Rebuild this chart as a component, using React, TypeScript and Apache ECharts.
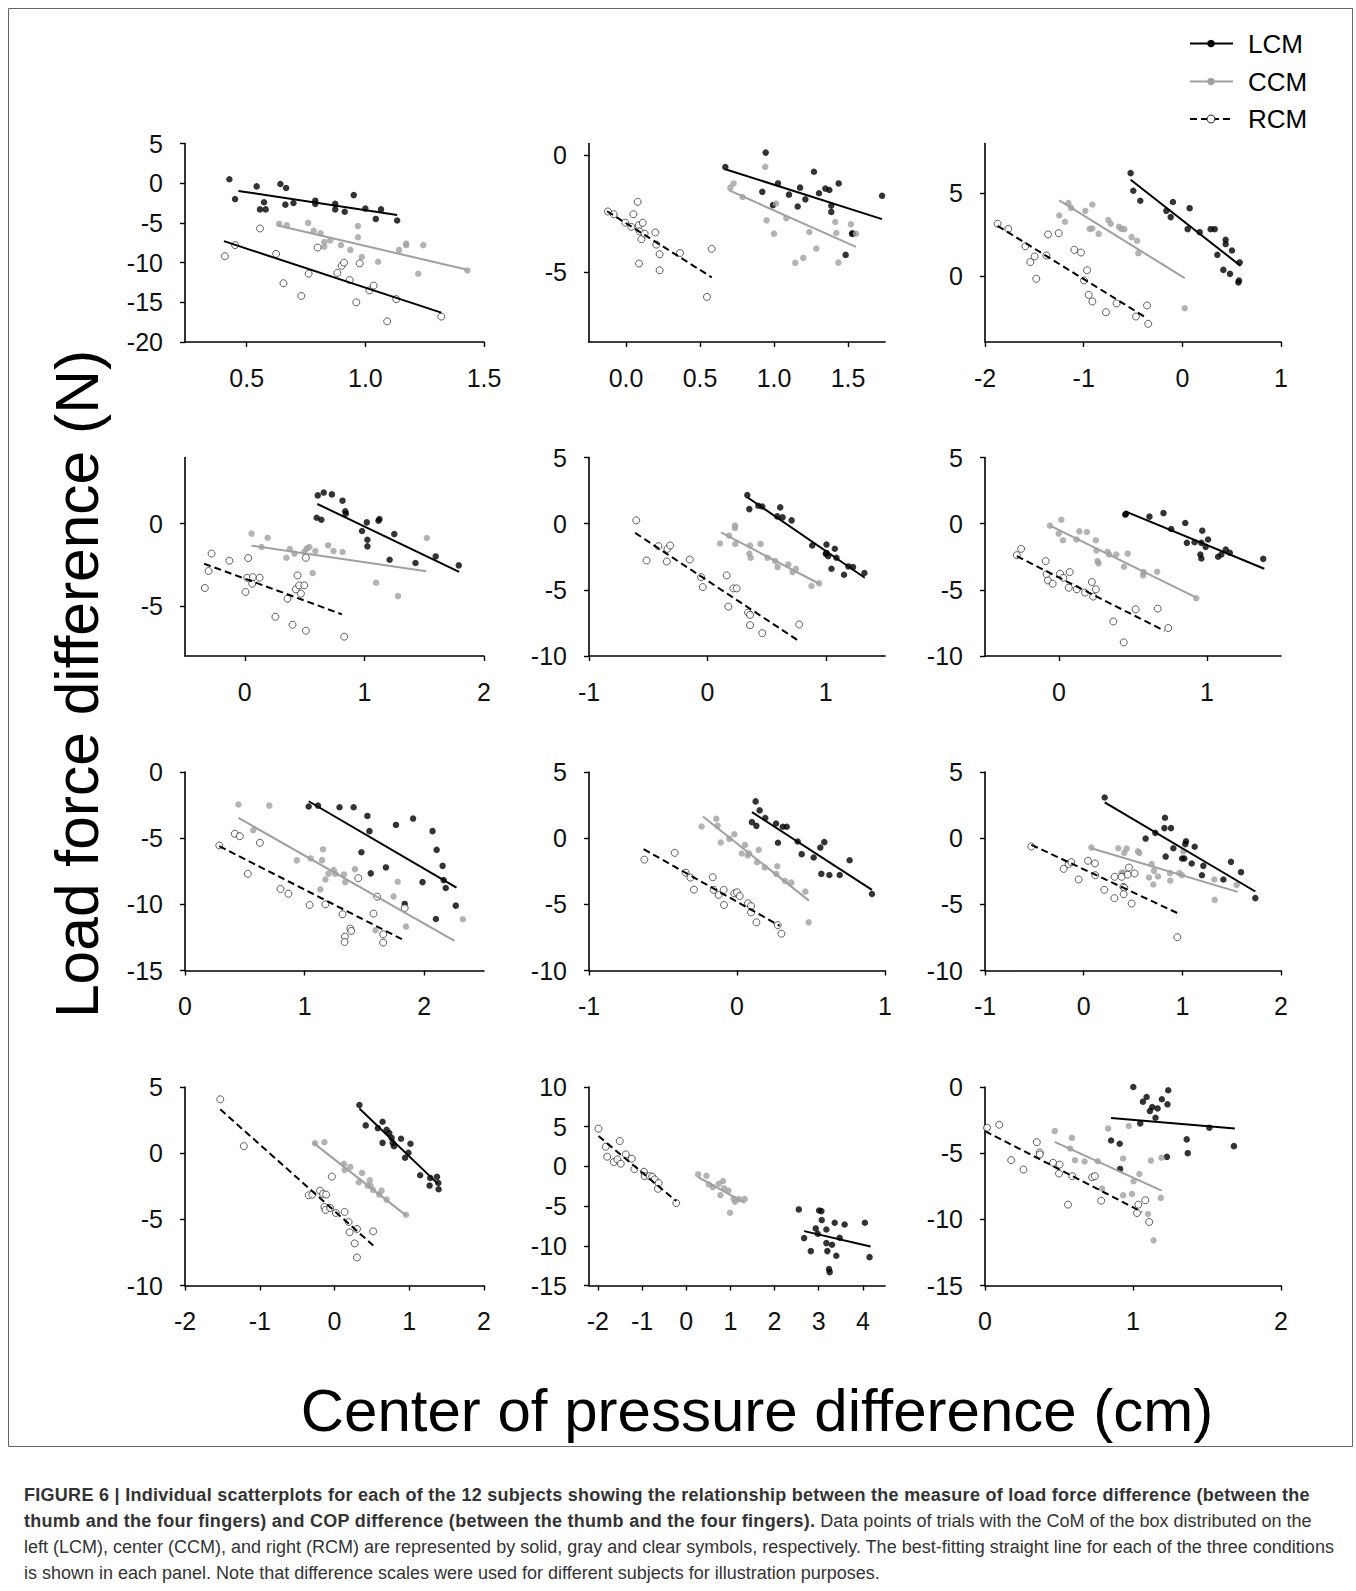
import React, { useEffect, useRef } from "react";
import * as echarts from "echarts";

const FONT = "'Liberation Sans', Arial, Helvetica, sans-serif";

// ---------------- data ----------------
const P1_LCM = [[0.427,0.5],[0.451,-2.0],[0.542,-0.4],[0.556,-3.3],[0.573,-2.4],[0.580,-3.3],[0.642,-0.1],[0.666,-0.6],[0.663,-2.7],[0.697,-2.5],[0.789,-2.2],[0.789,-2.6],[0.873,-2.6],[0.873,-3.3],[0.913,-3.6],[0.951,-1.5],[1.0,-3.2],[1.044,-4.5],[1.066,-3.3],[1.134,-4.7]];
const P1_LCM_FIT = [[0.465,-0.97],[1.134,-4.0]];
const P1_CCM = [[0.637,-5.1],[0.669,-5.3],[0.759,-5.0],[0.782,-6.0],[0.811,-6.3],[0.827,-7.4],[0.827,-8.0],[0.852,-7.2],[0.897,-7.8],[0.937,-8.4],[0.969,-5.4],[0.969,-6.8],[0.985,-9.3],[1.054,-9.9],[1.142,-8.4],[1.172,-7.8],[1.172,-7.6],[1.223,-11.4],[1.244,-7.8],[1.430,-11.0]];
const P1_CCM_FIT = [[0.627,-5.3],[1.430,-10.9]];
const P1_RCM = [[0.408,-9.2],[0.451,-7.8],[0.556,-5.7],[0.624,-8.9],[0.655,-12.6],[0.730,-14.2],[0.761,-11.4],[0.799,-8.1],[0.882,-11.3],[0.900,-10.4],[0.910,-10.0],[0.934,-12.2],[0.962,-15.0],[0.976,-10.1],[1.017,-13.5],[1.035,-12.9],[1.092,-17.4],[1.130,-14.6],[1.320,-16.8]];
const P1_RCM_FIT = [[0.404,-7.3],[1.320,-16.3]];

const P2_LCM = [[0.671,-0.51],[0.944,0.11],[0.921,-1.57],[0.993,-2.14],[1.027,-1.21],[1.101,-1.69],[1.160,-2.2],[1.176,-1.39],[1.212,-1.89],[1.270,-0.71],[1.304,-1.63],[1.347,-1.43],[1.374,-1.49],[1.387,-2.16],[1.387,-2.43],[1.437,-1.21],[1.484,-4.27],[1.527,-3.36],[1.533,-3.36],[1.730,-1.74]];
const P2_LCM_FIT = [[0.671,-0.6],[1.73,-2.74]];
const P2_CCM = [[0.705,-1.39],[0.727,-1.21],[0.788,-1.79],[0.941,-0.5],[0.950,-2.79],[1.0,-3.36],[1.014,-2.07],[1.083,-2.7],[1.144,-4.61],[1.198,-4.4],[1.239,-3.29],[1.286,-4.0],[1.414,-2.86],[1.421,-3.33],[1.435,-4.6],[1.520,-2.96],[1.554,-3.36]];
const P2_CCM_FIT = [[0.694,-1.5],[1.554,-3.93]];
const P2_RCM = [[-0.122,-2.41],[-0.083,-2.53],[-0.005,-2.89],[0.036,-3.07],[0.05,-2.53],[0.079,-2.0],[0.086,-3.0],[0.092,-3.26],[0.113,-2.9],[0.104,-3.6],[0.126,-3.36],[0.088,-4.64],[0.198,-3.31],[0.205,-3.83],[0.227,-4.24],[0.227,-4.93],[0.365,-4.19],[0.547,-6.07],[0.579,-4.01]];
const P2_RCM_FIT = [[-0.128,-2.4],[0.579,-5.23]];

const P3_LCM = [[-0.524,6.21],[-0.497,5.14],[-0.426,4.54],[-0.162,3.93],[-0.118,3.55],[-0.095,4.46],[0.054,2.82],[0.074,4.09],[0.176,2.64],[0.287,2.82],[0.328,2.82],[0.355,1.27],[0.416,0.36],[0.439,2.18],[0.439,1.92],[0.483,0.12],[0.503,1.53],[0.568,-0.4],[0.574,-0.28],[0.581,0.81]];
const P3_LCM_FIT = [[-0.524,5.81],[0.591,0.6]];
const P3_CCM = [[-1.247,3.65],[-1.189,3.27],[-1.155,4.40],[-1.128,4.11],[-0.983,3.93],[-0.912,4.31],[-0.939,2.84],[-0.912,2.86],[-0.848,2.54],[-0.75,3.37],[-0.726,3.15],[-0.642,2.96],[-0.618,2.84],[-0.588,2.82],[-0.514,2.34],[-0.459,2.12],[-0.446,1.37],[0.024,-1.96]];
const P3_CCM_FIT = [[-1.247,4.56],[0.024,-0.14]];
const P3_RCM = [[-1.872,3.15],[-1.764,2.84],[-1.591,1.79],[-1.541,0.83],[-1.497,1.17],[-1.480,-0.18],[-1.378,1.23],[-1.361,2.5],[-1.253,2.58],[-1.095,1.57],[-1.027,1.41],[-0.966,0.34],[-0.997,-0.28],[-0.949,-1.15],[-0.912,-1.55],[-0.774,-2.2],[-0.666,-1.67],[-0.470,-2.46],[-0.358,-1.79],[-0.345,-2.9]];
const P3_RCM_FIT = [[-1.872,3.02],[-0.358,-2.56]];

const P4_LCM = [[0.610,1.71],[0.660,1.88],[0.728,1.77],[0.817,1.39],[0.840,0.75],[0.845,0.6],[0.601,0.36],[0.640,0.24],[1.020,0.08],[0.980,-0.44],[1.025,-0.97],[1.025,-1.37],[1.118,0.18],[1.126,0.28],[1.250,-0.63],[1.211,-2.18],[1.427,-2.38],[1.596,-1.98],[1.789,-2.52]];
const P4_LCM_FIT = [[0.607,1.19],[1.792,-2.92]];
const P4_CCM = [[0.056,-0.6],[0.191,-0.85],[0.140,-1.41],[0.348,-2.06],[0.376,-1.53],[0.416,-1.81],[0.497,-1.71],[0.517,-1.51],[0.539,-1.41],[0.567,-2.98],[0.590,-1.65],[0.697,-1.31],[0.742,-1.65],[0.817,-1.71],[1.098,-3.57],[1.281,-4.38],[1.522,-0.87]];
const P4_CCM_FIT = [[0.056,-1.33],[1.517,-2.88]];
const P4_RCM = [[-0.334,-3.89],[-0.303,-2.86],[-0.278,-1.81],[-0.129,-2.24],[0.006,-4.13],[0.028,-2.08],[0.020,-3.27],[0.067,-3.23],[0.062,-3.63],[0.124,-3.27],[0.256,-5.63],[0.357,-4.54],[0.399,-6.11],[0.427,-3.97],[0.441,-3.13],[0.455,-3.73],[0.469,-4.23],[0.497,-3.73],[0.511,-2.06],[0.511,-6.47],[0.831,-6.83]];
const P4_RCM_FIT = [[-0.340,-2.42],[0.812,-5.48]];

const P5_LCM = [[0.337,2.16],[0.354,1.10],[0.430,1.35],[0.463,1.30],[0.590,0.55],[0.615,1.23],[0.635,0.48],[0.711,0.25],[0.885,-1.65],[1.006,-1.58],[1.0,-2.28],[1.020,-2.46],[1.006,-2.21],[1.076,-1.9],[1.090,-2.58],[1.048,-3.41],[1.154,-3.86],[1.191,-3.23],[1.230,-3.28],[1.326,-3.73]];
const P5_LCM_FIT = [[0.337,2.0],[1.329,-4.09]];
const P5_CCM = [[0.107,-1.5],[0.183,-0.9],[0.233,-0.15],[0.233,-0.33],[0.236,-1.53],[0.360,-1.65],[0.354,-2.26],[0.365,-2.58],[0.449,-1.53],[0.508,-2.58],[0.573,-2.83],[0.593,-3.28],[0.683,-3.08],[0.719,-3.66],[0.747,-3.41],[0.879,-4.71],[0.944,-4.51]];
const P5_CCM_FIT = [[0.115,-0.65],[0.944,-4.54]];
const P5_RCM = [[-0.601,0.25],[-0.514,-2.78],[-0.413,-1.7],[-0.337,-1.9],[-0.315,-1.65],[-0.343,-2.86],[-0.149,-2.71],[-0.053,-4.04],[-0.039,-4.79],[0.163,-3.91],[0.177,-6.27],[0.219,-4.89],[0.247,-4.89],[0.343,-6.72],[0.360,-6.89],[0.360,-7.67],[0.463,-8.27],[0.775,-7.62]];
const P5_RCM_FIT = [[-0.610,-0.70],[0.770,-8.85]];

const P6_LCM = [[0.448,0.68],[0.452,0.75],[0.611,0.53],[0.706,0.80],[0.758,-0.4],[0.853,0.05],[0.864,-1.45],[0.916,-1.4],[0.962,-1.45],[0.968,-0.53],[0.955,-2.33],[0.962,-2.63],[0.991,-1.75],[1.007,-1.2],[1.075,-2.5],[1.097,-2.33],[1.127,-1.95],[1.154,-2.2],[1.380,-2.66]];
const P6_LCM_FIT = [[0.448,0.93],[1.387,-3.41]];
const P6_CCM = [[-0.061,-0.15],[-0.002,-0.75],[0.016,0.30],[0.027,-1.25],[0.118,-1.2],[0.138,-0.58],[0.188,-0.63],[0.249,-1.25],[0.253,-2.03],[0.260,-2.83],[0.267,-3.0],[0.328,-2.13],[0.339,-2.33],[0.387,-2.33],[0.439,-3.26],[0.464,-2.26],[0.568,-3.91],[0.572,-3.66],[0.663,-3.63],[0.928,-5.64]];
const P6_CCM_FIT = [[-0.061,-0.15],[0.928,-5.59]];
const P6_RCM = [[-0.285,-2.38],[-0.256,-1.9],[-0.090,-2.83],[-0.084,-3.83],[-0.075,-4.29],[-0.043,-4.54],[0.007,-3.78],[0.029,-4.09],[0.072,-3.66],[0.066,-4.84],[0.120,-4.96],[0.176,-5.21],[0.222,-4.41],[0.231,-5.51],[0.249,-4.96],[0.367,-7.39],[0.437,-8.97],[0.518,-6.47],[0.667,-6.42],[0.738,-7.89]];
const P6_RCM_FIT = [[-0.285,-2.46],[0.713,-8.1]];

const P7_LCM = [[1.034,-2.61],[1.112,-2.54],[1.292,-2.66],[1.410,-2.66],[1.525,-3.32],[1.542,-4.47],[1.475,-6.06],[1.553,-7.66],[1.680,-7.21],[1.764,-4.0],[1.907,-3.52],[1.837,-9.97],[1.986,-8.32],[2.070,-4.47],[2.104,-5.88],[2.154,-7.09],[2.163,-8.17],[2.180,-8.77],[2.098,-11.11],[2.264,-10.1]];
const P7_LCM_FIT = [[1.034,-2.21],[2.270,-8.74]];
const P7_CCM = [[0.447,-2.46],[0.705,-2.54],[0.570,-4.40],[0.935,-6.68],[1.051,-6.53],[1.154,-5.85],[1.146,-6.66],[1.132,-8.87],[1.174,-8.12],[1.199,-7.69],[1.244,-7.41],[1.256,-7.69],[1.329,-7.74],[1.340,-8.32],[1.421,-7.34],[1.593,-11.96],[1.744,-9.4],[1.778,-8.29],[1.848,-11.68],[2.323,-11.13]];
const P7_CCM_FIT = [[0.447,-3.47],[2.253,-12.76]];
const P7_RCM = [[0.287,-5.55],[0.416,-4.67],[0.458,-4.85],[0.626,-5.35],[0.525,-7.69],[0.798,-8.84],[0.865,-9.2],[1.042,-10.05],[1.174,-10.0],[1.317,-10.75],[1.337,-12.44],[1.334,-12.84],[1.382,-11.83],[1.390,-12.01],[1.449,-8.02],[1.576,-10.7],[1.607,-9.42],[1.657,-12.26],[1.657,-12.89],[1.837,-10.28]];
const P7_RCM_FIT = [[0.287,-5.60],[1.815,-12.64]];

const P8_LCM = [[0.126,2.78],[0.153,2.10],[0.101,1.21],[0.131,0.93],[0.191,1.52],[0.264,1.11],[0.309,0.86],[0.336,0.86],[0.277,-0.35],[0.410,-0.25],[0.437,-1.21],[0.518,-1.46],[0.563,-0.71],[0.590,-0.30],[0.570,-2.70],[0.624,-2.78],[0.694,-2.78],[0.761,-1.67],[0.912,-4.22]];
const P8_LCM_FIT = [[0.101,1.97],[0.912,-3.91]];
const P8_CCM = [[-0.239,0.88],[-0.140,1.46],[-0.131,0.93],[-0.110,-0.33],[-0.052,-0.05],[-0.018,0.30],[0.054,-0.51],[0.032,-1.16],[0.072,-1.31],[0.081,-1.14],[0.147,-0.88],[0.135,-1.82],[0.187,-2.22],[0.272,-2.12],[0.266,-2.70],[0.324,-3.23],[0.367,-3.36],[0.462,-4.04],[0.484,-6.36]];
const P8_CCM_FIT = [[-0.230,1.64],[0.486,-4.72]];
const P8_RCM = [[-0.626,-1.62],[-0.421,-1.11],[-0.347,-2.60],[-0.315,-2.98],[-0.291,-3.89],[-0.164,-2.95],[-0.158,-3.91],[-0.124,-4.29],[-0.090,-3.91],[-0.088,-5.05],[-0.018,-4.17],[0.0,-4.09],[0.018,-4.37],[0.074,-4.92],[0.095,-5.13],[0.095,-5.61],[0.131,-6.36],[0.275,-6.57],[0.300,-7.22]];
const P8_RCM_FIT = [[-0.631,-0.83],[0.288,-6.62]];

const P9_LCM = [[0.213,3.07],[0.628,-0.03],[0.726,0.40],[0.824,1.54],[0.818,0.76],[0.885,0.76],[0.909,-0.76],[0.831,-1.39],[0.997,-1.54],[1.020,-1.54],[1.037,-0.23],[1.030,-0.45],[1.125,-0.65],[1.095,-1.91],[1.213,-2.09],[1.199,-2.80],[1.416,-3.12],[1.493,-1.79],[1.595,-2.57],[1.740,-4.53]];
const P9_LCM_FIT = [[0.213,2.70],[1.740,-4.03]];
const P9_CCM = [[0.078,-0.71],[0.351,-0.76],[0.412,-1.11],[0.436,-0.78],[0.564,-1.11],[0.55,-1.0],[0.382,-2.64],[0.402,-2.59],[0.689,-1.96],[0.713,-2.47],[0.662,-2.97],[0.706,-3.50],[0.753,-2.90],[0.875,-2.64],[0.878,-3.22],[0.970,-2.64],[0.997,-2.80],[1.010,-1.01],[1.324,-3.12],[1.328,-4.66],[1.551,-3.53]];
const P9_CCM_FIT = [[0.078,-0.76],[1.561,-4.06]];
const P9_RCM = [[-0.530,-0.63],[-0.203,-2.32],[-0.152,-1.96],[-0.125,-1.81],[-0.051,-3.12],[0.044,-1.71],[0.115,-1.91],[0.118,-2.80],[0.209,-3.90],[0.311,-4.53],[0.314,-2.92],[0.385,-2.92],[0.402,-3.68],[0.412,-3.75],[0.405,-4.23],[0.446,-2.75],[0.459,-2.22],[0.517,-2.67],[0.486,-4.94],[0.949,-7.48]];
const P9_RCM_FIT = [[-0.530,-0.50],[0.953,-5.67]];

const P10_LCM = [[0.333,3.64],[0.418,2.10],[0.580,1.89],[0.643,2.37],[0.643,0.78],[0.697,1.77],[0.733,1.52],[0.764,1.16],[0.778,0.78],[0.796,0.53],[0.890,1.09],[0.944,-0.35],[0.989,0.03],[1.016,0.71],[1.146,-1.67],[1.281,-1.87],[1.272,-2.45],[1.371,-1.79],[1.389,-2.25],[1.393,-2.73]];
const P10_LCM_FIT = [[0.333,3.38],[1.380,-2.30]];
const P10_CCM = [[-0.261,0.76],[-0.135,0.83],[0.126,-0.81],[0.135,-1.26],[0.211,-1.04],[0.369,-1.49],[0.324,-2.20],[0.472,-2.05],[0.443,-2.45],[0.481,-2.45],[0.517,-2.78],[0.629,-2.83],[0.598,-3.13],[0.697,-3.51],[0.957,-4.65]];
const P10_CCM_FIT = [[-0.283,0.78],[0.957,-4.70]];
const P10_RCM = [[-1.528,4.07],[-1.213,0.53],[-0.346,-3.18],[-0.297,-3.13],[-0.193,-2.83],[-0.153,-3.08],[-0.112,-3.13],[-0.135,-4.07],[-0.121,-4.29],[-0.058,-4.14],[-0.036,-1.77],[0.018,-4.52],[0.135,-4.44],[0.189,-5.20],[0.202,-5.98],[0.301,-5.73],[0.270,-6.82],[0.301,-7.88],[0.517,-5.91]];
const P10_RCM_FIT = [[-1.528,3.31],[0.517,-6.97]];

const P11_LCM = [[2.549,-5.42],[3.008,-5.55],[3.060,-5.63],[3.068,-6.76],[3.361,-7.10],[3.586,-7.31],[4.045,-7.10],[2.932,-7.81],[3.173,-7.94],[2.669,-9.03],[2.977,-8.49],[3.173,-9.66],[3.301,-9.87],[3.474,-8.99],[2.820,-10.67],[3.195,-10.67],[3.398,-11.26],[4.150,-11.43],[3.233,-12.94],[3.248,-13.32]];
const P11_LCM_FIT = [[2.669,-8.15],[4.173,-10.08]];
const P11_CCM = [[0.271,-1.01],[0.459,-1.18],[0.511,-2.27],[0.602,-2.61],[0.737,-2.18],[0.774,-3.61],[0.835,-1.85],[0.857,-2.77],[0.955,-3.03],[1.075,-4.08],[1.105,-4.45],[1.195,-4.12],[1.323,-4.12],[0.992,-5.84]];
const P11_CCM_FIT = [[0.271,-1.34],[1.323,-4.58]];
const P11_RCM = [[-1.985,4.75],[-1.820,2.48],[-1.789,1.22],[-1.639,0.55],[-1.556,0.88],[-1.504,3.19],[-1.481,0.34],[-1.368,1.51],[-1.233,0.97],[-1.173,-0.34],[-0.955,-0.67],[-0.940,-1.22],[-0.827,-1.22],[-0.767,-1.30],[-0.714,-1.64],[-0.624,-2.10],[-0.639,-2.82],[-0.226,-4.62]];
const P11_RCM_FIT = [[-1.985,3.82],[-0.226,-4.37]];

const P12_LCM = [[1.002,0.0],[1.067,-1.11],[1.092,-0.76],[1.114,-1.82],[1.130,-1.52],[1.166,-1.62],[1.152,-2.32],[1.195,-0.93],[1.238,-0.25],[1.233,-1.31],[1.049,-2.75],[0.852,-4.04],[0.910,-4.29],[0.913,-6.19],[1.229,-5.28],[1.363,-3.96],[1.370,-5.0],[1.516,-3.08],[1.682,-4.47]];
const P12_LCM_FIT = [[0.852,-2.35],[1.688,-3.13]];
const P12_CCM = [[0.471,-3.33],[0.576,-4.65],[0.587,-3.84],[0.608,-5.53],[0.673,-5.63],[0.762,-5.61],[0.791,-7.68],[0.832,-3.13],[0.933,-5.40],[0.933,-8.18],[0.971,-2.95],[0.993,-8.08],[1.004,-7.12],[1.043,-6.57],[1.101,-9.60],[1.121,-5.56],[1.139,-11.59],[1.193,-5.35],[1.188,-8.38]];
const P12_CCM_FIT = [[0.471,-4.14],[1.193,-7.83]];
const P12_RCM = [[0.013,-3.08],[0.096,-2.85],[0.177,-5.53],[0.260,-6.24],[0.350,-4.17],[0.370,-4.95],[0.370,-5.10],[0.460,-5.73],[0.504,-5.86],[0.500,-6.54],[0.561,-8.89],[0.590,-6.74],[0.724,-6.82],[0.742,-6.74],[0.785,-8.59],[1.027,-9.52],[1.036,-8.89],[1.083,-8.56],[1.110,-10.2]];
const P12_RCM_FIT = [[0.0,-3.33],[1.061,-9.44]];

// axis ranges and tick labels per panel
const X_RANGES = [[0.24,1.5],[-0.25,1.75],[-2,1],[-0.5,2],[-1,1.5],[-0.5,1.5],[0,2.5],[-1,1],[-1,2],[-2,2],[-2.2,4.5],[0,2]];
const X_TICKS = [[0.5,1.0,1.5],[0,0.5,1.0,1.5],[-2,-1,0,1],[0,1,2],[-1,0,1],[0,1],[0,1,2],[-1,0,1],[-1,0,1,2],[-2,-1,0,1,2],[-2,-1,0,1,2,3,4],[0,1,2]];
const X_DECIMALS = [1,1,0,0,0,0,0,0,0,0,0,0];
const Y_RANGES = [[-20,5],[-8,0.5],[-4,8],[-8,4],[-10,5],[-10,5],[-15,0],[-10,5],[-10,5],[-10,5],[-15,10],[-15,0]];
const Y_TICKS = [[5,0,-5,-10,-15,-20],[0,-5],[5,0],[0,-5],[5,0,-5,-10],[5,0,-5,-10],[0,-5,-10,-15],[5,0,-5,-10],[5,0,-5,-10],[5,0,-5,-10],[10,5,0,-5,-10,-15],[0,-5,-10,-15]];

const LCM = [P1_LCM,P2_LCM,P3_LCM,P4_LCM,P5_LCM,P6_LCM,P7_LCM,P8_LCM,P9_LCM,P10_LCM,P11_LCM,P12_LCM];
const LCM_FIT = [P1_LCM_FIT,P2_LCM_FIT,P3_LCM_FIT,P4_LCM_FIT,P5_LCM_FIT,P6_LCM_FIT,P7_LCM_FIT,P8_LCM_FIT,P9_LCM_FIT,P10_LCM_FIT,P11_LCM_FIT,P12_LCM_FIT];
const CCM = [P1_CCM,P2_CCM,P3_CCM,P4_CCM,P5_CCM,P6_CCM,P7_CCM,P8_CCM,P9_CCM,P10_CCM,P11_CCM,P12_CCM];
const CCM_FIT = [P1_CCM_FIT,P2_CCM_FIT,P3_CCM_FIT,P4_CCM_FIT,P5_CCM_FIT,P6_CCM_FIT,P7_CCM_FIT,P8_CCM_FIT,P9_CCM_FIT,P10_CCM_FIT,P11_CCM_FIT,P12_CCM_FIT];
const RCM = [P1_RCM,P2_RCM,P3_RCM,P4_RCM,P5_RCM,P6_RCM,P7_RCM,P8_RCM,P9_RCM,P10_RCM,P11_RCM,P12_RCM];
const RCM_FIT = [P1_RCM_FIT,P2_RCM_FIT,P3_RCM_FIT,P4_RCM_FIT,P5_RCM_FIT,P6_RCM_FIT,P7_RCM_FIT,P8_RCM_FIT,P9_RCM_FIT,P10_RCM_FIT,P11_RCM_FIT,P12_RCM_FIT];

const LEGEND_NAMES = ["LCM", "CCM", "RCM"];

// ---------------- layout ----------------
const COL_LEFT = [185, 589, 985];
const COL_W = [299, 296, 296];
const ROW_TOP = [143.5, 457.5, 772, 1087];
const ROW_H = 198.5;

const BLACK = "#000";
const GRAY = "#a0a0a0";
const DASH = [7, 4];

function buildOption() {
  const grids: any[] = [];
  const xAxes: any[] = [];
  const yAxes: any[] = [];
  const series: any[] = [];
  for (let i = 0; i < 12; i++) {
    const c = i % 3;
    const r = Math.floor(i / 3);
    grids.push({ left: COL_LEFT[c], top: ROW_TOP[r], width: COL_W[c], height: ROW_H, containLabel: false, outerBoundsMode: "none" });
    const dec = X_DECIMALS[i];
    xAxes.push({
      type: "value", gridIndex: i, min: X_RANGES[i][0], max: X_RANGES[i][1],
      axisLine: { show: true, onZero: false, lineStyle: { color: BLACK, width: 1.6 } },
      axisTick: { show: true, length: 5, customValues: X_TICKS[i], lineStyle: { color: BLACK, width: 1.4 } },
      axisLabel: { customValues: X_TICKS[i], formatter: (v: number) => (dec ? v.toFixed(1) : String(Math.round(v))), fontSize: 25, fontFamily: FONT, color: "#111", margin: 23 },
      splitLine: { show: false },
    });
    yAxes.push({
      type: "value", gridIndex: i, min: Y_RANGES[i][0], max: Y_RANGES[i][1],
      axisLine: { show: true, onZero: false, lineStyle: { color: BLACK, width: 1.6 } },
      axisTick: { show: true, length: 5, customValues: Y_TICKS[i], lineStyle: { color: BLACK, width: 1.4 } },
      axisLabel: { customValues: Y_TICKS[i], formatter: (v: number) => String(Math.round(v)), fontSize: 25, fontFamily: FONT, color: "#111", margin: 22 },
      splitLine: { show: false },
    });
    const common = { xAxisIndex: i, yAxisIndex: i, silent: true, emphasis: { disabled: true } };
    series.push({ ...common, type: "scatter", name: LEGEND_NAMES[0], data: LCM[i], symbol: "circle", symbolSize: 6.5, itemStyle: { color: BLACK }, z: 2 });
    series.push({ ...common, type: "scatter", name: LEGEND_NAMES[1], data: CCM[i], symbol: "circle", symbolSize: 6.5, itemStyle: { color: GRAY }, z: 2 });
    series.push({ ...common, type: "scatter", name: LEGEND_NAMES[2], data: RCM[i], symbol: "circle", symbolSize: 7, itemStyle: { color: "#fff", borderColor: "#222", borderWidth: 0.9 }, z: 2 });
    series.push({ ...common, type: "line", data: LCM_FIT[i], symbol: "none", showSymbol: false, lineStyle: { color: BLACK, width: 2 }, z: 3 });
    series.push({ ...common, type: "line", data: CCM_FIT[i], symbol: "none", showSymbol: false, lineStyle: { color: GRAY, width: 2 }, z: 3 });
    series.push({ ...common, type: "line", data: RCM_FIT[i], symbol: "none", showSymbol: false, lineStyle: { color: BLACK, width: 2, type: i === 0 ? "solid" : DASH }, z: 3 });
  }

  const legendY = [43.5, 81.5, 119];
  const graphic: any[] = [
    { type: "rect", silent: true, z: -10, shape: { x: 8.5, y: 8.5, width: 1344, height: 1438 }, style: { fill: "none", stroke: "#666", lineWidth: 1 } },
    { type: "text", silent: true, x: 77, y: 684, rotation: Math.PI / 2, style: { text: "Load force difference (N)", fontSize: 60.5, fontFamily: FONT, fill: "#000", align: "center", verticalAlign: "middle" } },
    { type: "text", silent: true, x: 757, y: 1410, style: { text: "Center of pressure difference (cm)", fontSize: 60, fontFamily: FONT, fill: "#000", align: "center", verticalAlign: "middle" } },
  ];
  LEGEND_NAMES.forEach((name, k) => {
    const y = legendY[k];
    const col = k === 1 ? GRAY : BLACK;
    graphic.push({ type: "line", silent: true, shape: { x1: 1190, y1: y, x2: 1233, y2: y }, style: { stroke: col, lineWidth: 2.2, lineDash: k === 2 ? DASH : null } });
    graphic.push({ type: "circle", silent: true, shape: { cx: 1211, cy: y, r: k === 2 ? 4 : 3.8 }, style: k === 2 ? { fill: "#fff", stroke: "#222", lineWidth: 1 } : { fill: col } });
    graphic.push({ type: "text", silent: true, x: 1248, y: y, style: { text: name, fontSize: 26, fontFamily: FONT, fill: "#000", align: "left", verticalAlign: "middle" } });
  });

  return {
    animation: false,
    backgroundColor: "#fff",
    grid: grids,
    xAxis: xAxes,
    yAxis: yAxes,
    series,
    graphic,
  };
}

export default function App() {
  const ref = useRef<HTMLDivElement>(null);
  useEffect(() => {
    const chart = echarts.init(ref.current as HTMLDivElement, null, { renderer: "svg" });
    chart.setOption(buildOption() as any);
    return () => chart.dispose();
  }, []);
  const capStyle: React.CSSProperties = {
    position: "absolute", left: 24, top: 1482, fontFamily: FONT, fontSize: 18, lineHeight: "26px",
    color: "#333", whiteSpace: "nowrap",
  };
  const boldStyle: React.CSSProperties = { fontWeight: "bold", letterSpacing: "0.28px" };
  return (
    <div style={{ position: "absolute", left: 0, top: 0, width: 1356, height: 1591, background: "#fff" }}>
      <div ref={ref} style={{ position: "absolute", left: 0, top: 0, width: 1356, height: 1470 }} />
      <div style={capStyle}>
        <span style={boldStyle}>FIGURE 6 | Individual scatterplots for each of the 12 subjects showing the relationship between the measure of load force difference (between the</span><br />
        <span style={boldStyle}>thumb and the four fingers) and COP difference (between the thumb and the four fingers).</span> Data points of trials with the CoM of the box distributed on the<br />
        left (LCM), center (CCM), and right (RCM) are represented by solid, gray and clear symbols, respectively. The best-fitting straight line for each of the three conditions<br />
        is shown in each panel. Note that difference scales were used for different subjects for illustration purposes.
      </div>
    </div>
  );
}
